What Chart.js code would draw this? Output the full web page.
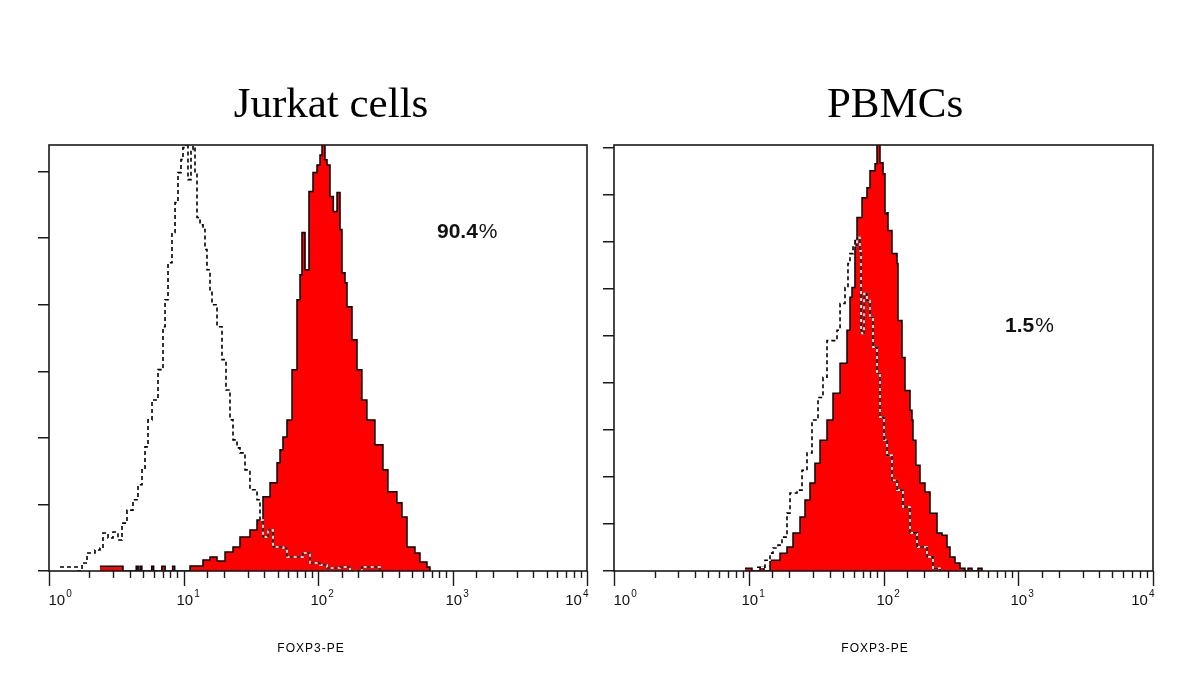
<!DOCTYPE html>
<html>
<head>
<meta charset="utf-8">
<script src="https://cdn.jsdelivr.net/npm/chart.js@4/dist/chart.umd.min.js"></script>
<style>
  body { margin: 0; background: #fff; }
  .panel { position: absolute; top: 0; width: 600px; height: 692px; }
</style>
</head>
<body>
<div class="panel" style="left:0"><canvas id="jurkat" width="600" height="692"></canvas></div>
<div class="panel" style="left:600px"><canvas id="pbmc" width="600" height="692"></canvas></div>
<script>
// FOXP3-PE intensity (bin start) and event counts

// Jurkat cells, FOXP3 stain (red)
const jurkatStainX = [2.39, 3.55, 4.45, 4.6, 4.75, 4.9, 5.8, 6.0, 6.9, 7.3, 8.3, 8.6,
  11.18, 13.96, 15.74, 17.75, 20.36, 23.34, 26.3, 31.2, 35.2, 39.0, 44.0, 49.6, 52.2,
  54.9, 58.8, 64.1, 69.8, 73.5, 76.0, 80.1, 85.7, 91.8, 98.3, 103.5, 107.1, 112.7,
  116.7, 122.8, 130, 138.5, 145.8, 150.8, 158.8, 164.3, 179, 195, 212, 231, 265, 304,
  331, 386, 421, 459, 526, 573, 646, 680];
const jurkatStainCount = [1.4, 0, 1.4, 0, 1.4, 0, 1.4, 0, 1.4, 0, 1.4, 0,
  1.5, 3.3, 4.2, 3.0, 5.7, 7.2, 10.2, 12.3, 15.3, 22.3, 26.5, 32.5, 36.4,
  40.3, 45.4, 60.5, 81.5, 89, 101.7, 90.5, 114, 119.7, 122, 125, 135, 123.6,
  122, 112.5, 108, 113.7, 102.6, 89.6, 86.6, 79.4, 69.5, 60.5, 51.4, 45.4, 37.9, 30.4,
  23.8, 20.5, 16.2, 7.2, 5.4, 2.7, 1.2, 0];

// Jurkat cells, isotype control (dashed)
const jurkatIsoX = [1.207, 1.643, 1.76, 1.917, 2.198, 2.394, 2.52, 2.746, 2.991, 3.258,
  3.49, 3.801, 4.212, 4.589, 4.915, 5.174, 5.445, 5.833, 6.463, 7.04, 7.29, 7.67, 8.21,
  8.65, 9.10, 9.58, 9.91, 10.44, 10.8, 11.37, 11.77, 12.18, 12.6, 13.27, 13.96, 14.45,
  14.95, 15.74, 16.29, 17.75, 19.33, 20.7, 22.17, 23.34, 25.0, 26.3, 28.66, 31.2, 35.2,
  37.05, 39.0, 42.5, 46.3, 54.9, 58.8, 69.8, 77.3, 87.2, 103.5, 116.7, 145.8, 173, 212, 289];
const jurkatIsoCount = [1.2, 0, 2.4, 5.4, 6.3, 6.9, 11.4, 9.9, 11.7, 9.3,
  14.4, 18.3, 21.4, 25.9, 30.4, 37.3, 45.4, 51.4, 60.5, 73.4, 81.5, 92.6, 101.7,
  110.7, 119.7, 123.6, 127.2, 135, 117.6, 126.6, 135, 119.7, 106.2, 104, 102.6, 96.6,
  90.5, 84.5, 80, 73.4, 63.5, 54.4, 45.4, 39.4, 37, 35.5, 30.4, 24.4, 21.4,
  15.3, 10.2, 12.3, 7.2, 6.9, 4.2, 4.2, 5.4, 2.4, 1.8, 0.9, 1.2, 0, 1.2, 0];

// PBMCs, FOXP3 stain (red)
const pbmcStainX = [9.38, 10.57, 12.12, 12.98, 14.38, 17.06, 19.22, 21.3, 24.01, 26.15,
  28.48, 31.01, 33.8, 38.08, 42.2, 47.6, 53.6, 56.4, 58.4, 61.4, 63.6, 69.3, 75.4, 79.4,
  86.5, 89.5, 94.2, 99.2, 102.6, 106.2, 108, 115.6, 126, 128.1, 137.2, 144.4, 157.3,
  162.7, 165.5, 174, 186.6, 203.2, 221.4, 249.5, 271.8, 296, 311.5, 339.4, 369.6, 402.6,
  423.8, 453.8, 502.7, 538.3];
const pbmcStainCount = [0.6, 0, 0.8, 0, 2.3, 3.8, 5.1, 8.1, 11.5, 15.1,
  18.7, 22.9, 27.8, 32.1, 37.8, 44.2, 51.2, 58.2, 60.3, 70.3, 75.2, 79.4, 81.5, 85.1,
  86.6, 95, 86.8, 84.5, 76, 76.2, 72.4, 67.5, 65.4, 53.3, 45.4, 38.4, 34.2,
  32.1, 27.8, 22.5, 18.7, 16.8, 12.3, 8.1, 7.6, 5.1, 3.0, 1.7, 0.6, 0,
  0.6, 0, 0.6, 0];

// PBMCs, isotype control (dashed)
const pbmcIsoX = [11.51, 13.2, 14.38, 15.14, 16.49, 17.65, 19.22, 20.24, 22.81, 24.85,
  27.06, 29.47, 32.66, 35.56, 38.08, 45.2, 47.6, 51.8, 54.5, 56.4, 59.4, 63.6, 66.9,
  68.1, 69.3, 71.7, 75.4, 79.4, 83.6, 89.5, 94.2, 100.9, 106.2, 115.6, 126, 139.5,
  157.3, 177.3, 210.3, 233, 262.6];
const pbmcIsoCount = [0.8, 2.3, 3.8, 4.9, 5.5, 7.2, 12.3, 16.6, 17.2, 21.4,
  25.1, 32.1, 36.9, 41.2, 49.0, 51.2, 56.9, 60.3, 65.4, 67.5, 69.2, 70.9, 68.1,
  51.2, 50.5, 59.0, 57.5, 53.9, 47.6, 42.0, 32.7, 27.8, 24.6, 19.3, 17.2, 13.6,
  8.1, 5.1, 3.0, 0.6, 0];

function toPoints(xs, ys) {
  return xs.map((x, i) => ({ x: x, y: ys[i] }));
}

// frame, log-axis ticks with 10^n labels, and the panel texts
function panelDecor(p) {
  return {
    id: 'panelDecor',
    afterDraw(chart) {
      const ctx = chart.ctx;
      const a = chart.chartArea;
      const xs = chart.scales.x;
      ctx.save();
      ctx.strokeStyle = '#1a1a1a';
      ctx.lineWidth = 1.6;
      ctx.strokeRect(a.left, a.top, a.right - a.left, a.bottom - a.top);

      ctx.lineWidth = 1.4;
      const majors = [];
      xs.ticks.forEach(t => {
        const lg = Math.log10(t.value);
        const major = Math.abs(lg - Math.round(lg)) < 1e-9;
        const px = Math.round(xs.getPixelForValue(t.value)) + 0.5;
        ctx.beginPath();
        ctx.moveTo(px, a.bottom);
        ctx.lineTo(px, a.bottom + (major ? 15 : 7));
        ctx.stroke();
        if (major) majors.push({ px: px, exp: String(Math.round(lg)) });
      });

      ctx.fillStyle = '#111';
      majors.forEach((m, i) => {
        ctx.font = '15px "Liberation Sans", Arial, sans-serif';
        const wBase = ctx.measureText('10').width;
        ctx.font = '10px "Liberation Sans", Arial, sans-serif';
        const wExp = ctx.measureText(m.exp).width;
        const total = wBase + 1 + wExp;
        let x0 = m.px - 8;
        if (i === 0) x0 = m.px - 1;
        if (i === majors.length - 1) x0 = m.px + 1 - total;
        ctx.font = '15px "Liberation Sans", Arial, sans-serif';
        ctx.fillText('10', x0, 605);
        ctx.font = '10px "Liberation Sans", Arial, sans-serif';
        ctx.fillText(m.exp, x0 + wBase + 1, 597);
      });

      // title
      ctx.fillStyle = '#000';
      ctx.textAlign = 'center';
      ctx.font = '43px "Liberation Serif", "Times New Roman", serif';
      ctx.fillText(p.title, p.titleX, 117);

      // axis label
      ctx.font = '12px "Liberation Sans", Arial, sans-serif';
      ctx.letterSpacing = '1px';
      ctx.fillText('FOXP3-PE', p.axisLabelX, 652);
      ctx.letterSpacing = '0px';

      // percentage of positive cells
      ctx.textAlign = 'left';
      ctx.fillStyle = '#111';
      ctx.font = 'bold 21px "Liberation Sans", Arial, sans-serif';
      ctx.fillText(p.pct, p.pctX, p.pctY);
      const w = ctx.measureText(p.pct).width;
      ctx.font = '21px "Liberation Sans", Arial, sans-serif';
      ctx.fillText('%', p.pctX + w + 1, p.pctY);
      ctx.restore();
    }
  };
}

function histogram(canvasId, p) {
  return new Chart(document.getElementById(canvasId), {
    type: 'line',
    data: {
      datasets: [
        { data: toPoints(p.isoX, p.isoY), stepped: true, borderColor: '#000',
          borderWidth: 1.6, borderDash: [4, 3], fill: false, order: 0 },
        { data: toPoints(p.isoX, p.isoY), stepped: true, borderColor: '#fff',
          borderWidth: 1.6, fill: false, order: 1 },
        { data: toPoints(p.stainX, p.stainY), stepped: true, borderColor: '#000',
          backgroundColor: '#ff0000', borderWidth: 1.5, fill: 'origin', order: 2 }
      ]
    },
    options: {
      responsive: false,
      animation: false,
      layout: { padding: { top: 145, right: p.padRight, left: 0, bottom: 0 } },
      elements: { point: { radius: 0 }, line: { tension: 0 } },
      plugins: { legend: { display: false }, tooltip: { enabled: false } },
      scales: {
        x: {
          type: 'logarithmic', min: 1, max: 10000,
          ticks: { display: false },
          grid: { display: false },
          border: { display: false },
          afterFit: s => { s.height = 121; }
        },
        y: {
          min: 0, max: p.yMax,
          ticks: { display: false, stepSize: p.yStep, includeBounds: false },
          grid: { drawOnChartArea: false, tickLength: 11, color: '#1a1a1a', lineWidth: 1.5 },
          border: { display: false },
          afterFit: s => { s.width = p.yWidth; }
        }
      }
    },
    plugins: [panelDecor(p)]
  });
}

histogram('jurkat', {
  stainX: jurkatStainX, stainY: jurkatStainCount,
  isoX: jurkatIsoX, isoY: jurkatIsoCount,
  yMax: 128, yStep: 20, yWidth: 49, padRight: 13,
  title: 'Jurkat cells', titleX: 331, axisLabelX: 311,
  pct: '90.4', pctX: 437, pctY: 238
});

histogram('pbmc', {
  stainX: pbmcStainX, stainY: pbmcStainCount,
  isoX: pbmcIsoX, isoY: pbmcIsoCount,
  yMax: 90.6, yStep: 10, yWidth: 14, padRight: 47,
  title: 'PBMCs', titleX: 295, axisLabelX: 275,
  pct: '1.5', pctX: 405, pctY: 332
});
</script>
</body>
</html>
